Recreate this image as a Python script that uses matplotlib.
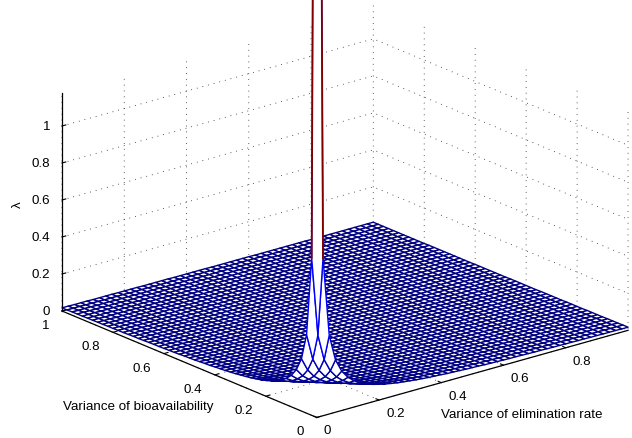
import numpy as np
import matplotlib
matplotlib.use("Agg")
import matplotlib.pyplot as plt
from matplotlib import colors
from mpl_toolkits.mplot3d import proj3d
from mpl_toolkits.mplot3d.art3d import Poly3DCollection

# ---------------- data ----------------
var_elim = np.linspace(0.0, 1.0, 51)   # grid of variance of elimination rate
var_bio = np.linspace(0.0, 1.0, 51)    # grid of variance of bioavailability
# lambda as read along the grid diagonals (index = step_elim + step_bio)
lam_by_step = [
    8.0, 0.850, 0.425, 0.283, 0.213, 0.170, 0.142, 0.121, 0.106, 0.094,
    0.085, 0.077, 0.071, 0.065, 0.061, 0.057, 0.053, 0.050, 0.047, 0.045,
    0.043, 0.040, 0.039, 0.037, 0.035, 0.034, 0.033, 0.031, 0.030, 0.029,
    0.028, 0.027, 0.027, 0.026, 0.025, 0.024, 0.024, 0.023, 0.022, 0.022,
    0.021, 0.021, 0.020, 0.020, 0.019, 0.019, 0.018, 0.018, 0.018, 0.017,
    0.017, 0.017, 0.016, 0.016, 0.016, 0.015, 0.015, 0.015, 0.015, 0.014,
    0.014, 0.014, 0.014, 0.013, 0.013, 0.013, 0.013, 0.013, 0.012, 0.012,
    0.012, 0.012, 0.012, 0.012, 0.011, 0.011, 0.011, 0.011, 0.011, 0.011,
    0.011, 0.010, 0.010, 0.010, 0.010, 0.010, 0.010, 0.010, 0.010, 0.010,
    0.009, 0.009, 0.009, 0.009, 0.009, 0.009, 0.009, 0.009, 0.009, 0.009,
    0.009,
]
elim_ticks = [0, 0.2, 0.4, 0.6, 0.8]
elim_ticklabels = ["0", "0.2", "0.4", "0.6", "0.8"]
bio_ticks = [0, 0.2, 0.4, 0.6, 0.8, 1]
bio_ticklabels = ["0", "0.2", "0.4", "0.6", "0.8", "1"]
z_ticks = [0, 0.2, 0.4, 0.6, 0.8, 1]
z_ticklabels = ["0", "0.2", "0.4", "0.6", "0.8", "1"]
xlabel = "Variance of elimination rate"
ylabel = "Variance of bioavailability"
zlabel = "λ"

# ---------------- style ----------------
W, H = 632, 439
FONT = ["Liberation Sans", "DejaVu Sans"]
FS = 9.6
plt.rcParams["font.family"] = FONT
plt.rcParams["grid.linestyle"] = ":"
plt.rcParams["grid.color"] = "0.15"
plt.rcParams["grid.linewidth"] = 0.6

fig = plt.figure(figsize=(W / 100, H / 100), dpi=100)
ax = fig.add_axes([0, 0, 1, 1], projection="3d", proj_type="ortho",
                  computed_zorder=False)
ax.view_init(elev=20, azim=-129.3)
ax.set_xlim(0, 1)
ax.set_ylim(0, 1)
ax.set_zlim(0, 1.18)

zasp = 0.58
ax.set_box_aspect((1, 1, zasp))

# panes and grid
for a in (ax.xaxis, ax.yaxis, ax.zaxis):
    a.set_pane_color((1, 1, 1, 0))
    a.pane.set_edgecolor((1, 1, 1, 0))
    a.line.set_color("black")
    a.line.set_linewidth(0.9)
    try:
        a._axinfo["grid"].update({"linestyle": (0, (1, 6)), "linewidth": 0.6,
                                  "color": (0.15, 0.15, 0.15, 1)})
        a._axinfo["tick"].update({"inward_factor": 0.0, "outward_factor": 0.15})
        a._axinfo["tick"]["linewidth"] = {True: 0.8, False: 0.5}
    except Exception:
        pass

ax.set_xticks(elim_ticks)
ax.set_xticklabels([])
ax.set_yticks(bio_ticks)
ax.set_yticklabels([])
ax.set_zticks(z_ticks)
ax.set_zticklabels([])
ax.grid(True)

# ---------------- mesh ----------------
E, B = np.meshgrid(var_elim, var_bio)
lam = np.asarray(lam_by_step)
Z = lam[np.add.outer(np.arange(len(var_bio)), np.arange(len(var_elim)))]
norm = colors.Normalize(vmin=0, vmax=Z.max())
cmap = plt.get_cmap("jet")

verts, ecols = [], []
nb, ne = Z.shape
for i in range(nb - 1):
    for j in range(ne - 1):
        verts.append([(E[i, j], B[i, j], Z[i, j]),
                      (E[i, j + 1], B[i, j + 1], Z[i, j + 1]),
                      (E[i + 1, j + 1], B[i + 1, j + 1], Z[i + 1, j + 1]),
                      (E[i + 1, j], B[i + 1, j], Z[i + 1, j])])
        ci, cj = (i, j) if (i, j) != (0, 0) else (0, 1)
        ecols.append(cmap(norm(Z[ci, cj])))
mesh = Poly3DCollection(verts, facecolors="white", edgecolors=ecols,
                        linewidths=1.0, zorder=2)
ax.add_collection3d(mesh)

# the two edges that run to the peak value at the origin
top_col = cmap(norm(Z[0, 0]))
ax.plot([E[0, 1], E[0, 0]], [B[0, 1], B[0, 0]], [Z[0, 1], Z[0, 0]],
        color=top_col, lw=1.3, zorder=3)
ax.plot([E[1, 0], E[0, 0]], [B[1, 0], B[0, 0]], [Z[1, 0], Z[0, 0]],
        color=top_col, lw=1.3, zorder=3)

ax.set_xlim(0, 1)
ax.set_ylim(0, 1)
ax.set_zlim(0, 1.18)

# ---------------- place the 3D box like the reference ----------------
def proj_pts(pts):
    M = ax.get_proj()
    p = np.asarray(pts, float)
    try:
        xs, ys, _ = proj3d.proj_transform(p[:, 0], p[:, 1], p[:, 2], M)
    except AttributeError:
        xs, ys, _ = proj3d._proj_transform(p[:, 0], p[:, 1], p[:, 2], M)
    return ax.transData.transform(np.column_stack([xs, ys]))

t_left = np.array([62.0, H - 312.0])     # (elim 0, bio 1, z 0)
t_right = np.array([628.0, H - 333.0])   # (elim 1, bio 0, z 0)
z_unit_px = 185.0

L0 = float(H)
for it in range(3):
    ax.set_position([(W - L0) / 2 / W, 0, L0 / W, 1])
    fig.canvas.draw()
    pL, pR, pZ = proj_pts([(0, 1, 0), (1, 0, 0), (0, 1, 1)])
    ratio_now = np.linalg.norm(pZ - pL) / np.linalg.norm(pR - pL)
    ratio_want = z_unit_px / np.linalg.norm(t_right - t_left)
    if it < 2:
        zasp *= ratio_want / ratio_now
        ax.set_box_aspect((1, 1, zasp))

c0 = np.array([W / 2.0, H / 2.0])
s = np.linalg.norm(t_right - t_left) / np.linalg.norm(pR - pL)
L1 = s * L0
c1 = t_left - s * (pL - c0)
ax.set_position([(c1[0] - L1 / 2) / W, (c1[1] - L1 / 2) / H, L1 / W, L1 / H])
fig.canvas.draw()

# ---------------- tick labels placed MATLAB-style ----------------
def put(px, dx, dy, s, ha):
    fig.text((px[0] + dx) / W, (px[1] + dy) / H, s, ha=ha, va="center",
             fontsize=FS)

for v, s_ in zip(bio_ticks, bio_ticklabels):
    put(proj_pts([(0, v, 0)])[0], -13, -14, s_, "right")
for v, s_ in zip(elim_ticks, elim_ticklabels):
    put(proj_pts([(v, 0, 0)])[0], 7, -13, s_, "left")
for v, s_ in zip(z_ticks, z_ticklabels):
    put(proj_pts([(0, 1, v)])[0], -12, 0, s_, "right")

# axis labels (MATLAB keeps them horizontal)
fig.text(138 / W, 1 - 407 / H, ylabel, ha="center", va="center", fontsize=FS)
fig.text(522 / W, 1 - 415 / H, xlabel, ha="center", va="center", fontsize=FS)
fig.text(18 / W, 1 - 205 / H, zlabel, ha="center", va="center", fontsize=FS,
         rotation=90)

fig.savefig("out.png", dpi=100)
